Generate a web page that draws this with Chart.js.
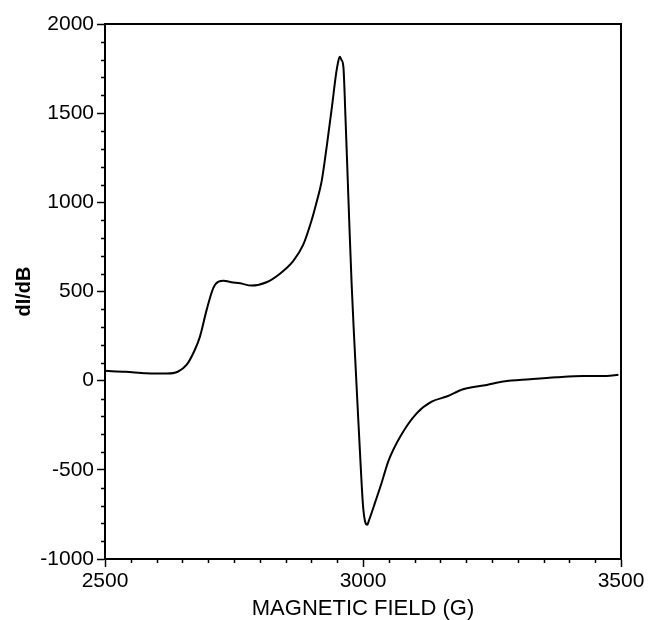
<!DOCTYPE html>
<html>
<head>
<meta charset="utf-8">
<script src="https://cdn.jsdelivr.net/npm/chart.js@4"></script>
<style>
  html, body { margin: 0; padding: 0; background: #fff; }
  canvas { display: block; }
</style>
</head>
<body>
<canvas id="epr" width="654" height="620"></canvas>
<script>
// EPR derivative spectrum, field in gauss
const fields = [2500, 2540, 2580, 2620, 2641, 2658, 2674, 2684, 2697, 2710, 2720, 2730, 2745, 2762, 2784,
  2813, 2839, 2865, 2884, 2900, 2910, 2920, 2930, 2940, 2948, 2952, 2955, 2958, 2962, 2966, 2970, 2974, 2978,
  2982, 2986, 2990, 2995, 3000, 3004, 3008, 3012, 3023, 3036, 3049, 3072, 3104, 3133, 3162, 3194, 3240,
  3272, 3324, 3375, 3427, 3472, 3495];
const signal = [55, 50, 42, 40, 50, 88, 172, 247, 397, 520, 555, 560, 552, 546, 533,
  552, 600, 672, 761, 895, 1000, 1120, 1320, 1540, 1724, 1790, 1817, 1800, 1760, 1480, 1160, 840, 540,
  290, 60, -170, -450, -700, -790, -808, -780, -687, -574, -452, -314, -183, -118, -89, -48, -24,
  -5, 8, 19, 26, 26, 33];

const xTicks = [2500, 3000, 3500];
const yTicks = [-1000, -500, 0, 500, 1000, 1500, 2000];
const xMinorStep = 50;
const yMinorStep = 100;

const tickFont = { family: "'Liberation Sans', Arial, sans-serif", size: 21 };

// short minor ticks plus the top/right frame lines
const frameAndMinor = {
  id: 'frameAndMinor',
  afterDraw(chart) {
    const { ctx, chartArea: a, scales: { x, y } } = chart;
    ctx.save();
    ctx.strokeStyle = '#000';
    ctx.lineWidth = 1.5;
    ctx.beginPath();
    for (let v = x.min; v <= x.max; v += xMinorStep) {
      if (xTicks.includes(v)) continue;
      const px = Math.round(x.getPixelForValue(v)) + 0.5;
      ctx.moveTo(px, a.bottom);
      ctx.lineTo(px, a.bottom + 4);
    }
    for (let v = y.min; v <= y.max; v += yMinorStep) {
      if (yTicks.includes(v)) continue;
      const py = Math.round(y.getPixelForValue(v)) + 0.5;
      ctx.moveTo(a.left - 4, py);
      ctx.lineTo(a.left, py);
    }
    ctx.stroke();
    ctx.lineWidth = 2;
    ctx.beginPath();
    ctx.moveTo(a.left, a.top);
    ctx.lineTo(a.right, a.top);
    ctx.lineTo(a.right, a.bottom);
    ctx.stroke();
    ctx.restore();
  }
};

new Chart(document.getElementById('epr'), {
  type: 'line',
  data: {
    datasets: [{
      data: fields.map((f, i) => ({ x: f, y: signal[i] })),
      borderColor: '#000',
      borderWidth: 2,
      pointRadius: 0,
      cubicInterpolationMode: 'monotone',
      fill: false
    }]
  },
  options: {
    responsive: false,
    devicePixelRatio: 1,
    animation: false,
    layout: { padding: { top: 24, right: 33, left: 0, bottom: 0 } },
    plugins: { legend: { display: false }, tooltip: { enabled: false } },
    scales: {
      x: {
        type: 'linear',
        min: 2500,
        max: 3500,
        afterBuildTicks: s => { s.ticks = xTicks.map(v => ({ value: v })); },
        afterFit: s => { s.height = 61; },
        border: { color: '#000', width: 2 },
        grid: { drawOnChartArea: false, tickLength: 8, tickColor: '#000', tickWidth: 1.5 },
        ticks: { color: '#000', font: tickFont, padding: 2, maxRotation: 0, callback: v => String(v) },
        title: {
          display: true,
          text: 'MAGNETIC FIELD (G)',
          color: '#000',
          font: { family: "'Liberation Sans', Arial, sans-serif", size: 22, lineHeight: 1.0 },
          padding: { top: 0, bottom: 0 }
        }
      },
      y: {
        min: -1000,
        max: 2000,
        afterBuildTicks: s => { s.ticks = yTicks.map(v => ({ value: v })); },
        afterFit: s => { s.width = 105; },
        border: { color: '#000', width: 2 },
        grid: { drawOnChartArea: false, tickLength: 8, tickColor: '#000', tickWidth: 1.5 },
        ticks: { color: '#000', font: tickFont, padding: 3, callback: v => String(v) },
        title: {
          display: true,
          text: 'dI/dB',
          color: '#000',
          font: { family: "'Liberation Sans', Arial, sans-serif", size: 20, weight: 'bold' },
          padding: { top: 12, bottom: 0 }
        }
      }
    }
  },
  plugins: [frameAndMinor]
});
</script>
</body>
</html>
